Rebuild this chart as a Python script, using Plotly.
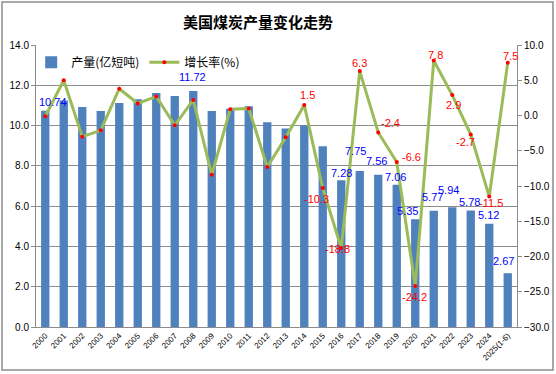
import plotly.graph_objects as go

years = ["2000", "2001", "2002", "2003", "2004", "2005", "2006", "2007", "2008",
         "2009", "2010", "2011", "2012", "2013", "2014", "2015", "2016", "2017",
         "2018", "2019", "2020", "2021", "2022", "2023", "2024", "2025(1-6)"]
output = [10.74, 11.25, 10.92, 10.72, 11.12, 11.31, 11.62, 11.47, 11.72, 10.72,
          10.84, 10.96, 10.16, 9.85, 10.00, 8.97, 7.28, 7.75, 7.56, 7.06,
          5.35, 5.77, 5.94, 5.78, 5.12, 2.67]
growth = [-0.1, 5.0, -3.0, -2.1, 3.8, 1.7, 2.7, -1.4, 2.2, -8.4,
          0.9, 1.0, -7.3, -3.1, 1.5, -10.3, -18.8, 6.3, -2.4, -6.6,
          -24.2, 7.8, 2.9, -2.7, -11.5, 7.5]

# which points carry value labels
bar_label_idx = [0, 8, 16, 17, 18, 19, 20, 21, 22, 23, 24, 25]
line_label_idx = list(range(14, 26))

# label offsets in pixels (style only): (xshift, yshift)
bar_label_shift = {0: (8, 9), 8: (-1, 14), 16: (0, 7), 17: (-4, 20), 18: (-2, 14),
                   19: (-1, 8), 20: (-8, 8), 21: (-1, 14), 22: (-4, 17),
                   23: (-1, 9), 24: (-1, 9), 25: (-4, 12)}
line_label_shift = {14: (3, 10), 15: (-6, -11), 16: (-4, -1), 17: (0, 8), 18: (12, 9),
                    19: (15, 5), 20: (-1, -11), 21: (2, 6), 22: (1, -10),
                    23: (-5, -7), 24: (2, -6), 25: (3, 7)}

FONT = "Liberation Sans, Arial, Noto Sans CJK SC, sans-serif"
CJK = "Noto Sans CJK SC, Microsoft YaHei, sans-serif"
GRID = "#8c8c8c"

fig = go.Figure()
fig.add_trace(go.Bar(
    x=years, y=output, name="产量(亿短吨)", marker_color="#4F81BD",
    marker_line_width=0, yaxis="y",
))
fig.add_trace(go.Scatter(
    x=years, y=growth, name="增长率(%)", yaxis="y2", mode="lines+markers",
    line=dict(color="#9BBB59", width=3),
    marker=dict(color="#FF0000", size=4, line=dict(width=0)),
))

annotations = []
for i in bar_label_idx:
    dx, dy = bar_label_shift[i]
    annotations.append(dict(x=i, y=output[i], xref="x", yref="y",
                            text=f"{output[i]:.2f}", showarrow=False,
                            xshift=dx, yshift=dy,
                            font=dict(color="#0000FF", size=11, family=FONT)))
for i in line_label_idx:
    dx, dy = line_label_shift[i]
    annotations.append(dict(x=i, y=growth[i], xref="x", yref="y2",
                            text=f"{growth[i]:.1f}", showarrow=False,
                            xshift=dx, yshift=dy,
                            font=dict(color="#FF0000", size=11, family=FONT)))

fig.update_layout(
    width=556, height=374,
    margin=dict(l=36, r=39, t=45, b=47, autoexpand=False),
    paper_bgcolor="white", plot_bgcolor="white",
    title=dict(text="<b>美国煤炭产量变化走势</b>", x=0.464, xanchor="center",
               y=0.94, yanchor="middle", font=dict(family=CJK, size=15, color="black")),
    bargap=0.55,
    showlegend=True,
    legend=dict(orientation="h", x=-0.01, y=0.99, xanchor="left", yanchor="top",
                bgcolor="rgba(0,0,0,0)", font=dict(family=CJK, size=12, color="black"),
                itemwidth=30, tracegroupgap=0),
    xaxis=dict(type="category", range=[-0.5, len(years) - 0.5], tickangle=-45,
               automargin=False, showgrid=False, showline=True,
               linecolor=GRID, linewidth=1, ticks="", tickfont=dict(family=FONT, size=8, color="black"),
               fixedrange=True),
    yaxis=dict(range=[0, 14], dtick=2, tickformat=".1f", showgrid=True, gridcolor=GRID,
               automargin=False,
               gridwidth=1, showline=True, linecolor=GRID, linewidth=1, ticks="outside",
               ticklen=4, tickcolor=GRID, zeroline=False,
               tickfont=dict(family=FONT, size=10, color="black")),
    yaxis2=dict(range=[-30, 10], dtick=5, tickformat=".1f", overlaying="y", side="right",
                automargin=False,
                showgrid=False, showline=True, linecolor=GRID, linewidth=1, ticks="outside",
                ticklen=4, tickcolor=GRID, zeroline=False,
                tickfont=dict(family=FONT, size=10, color="black")),
    annotations=annotations,
    shapes=[dict(type="rect", xref="paper", yref="paper",
                 x0=-0.0707, x1=1.0748, y0=-0.1525, y1=1.1525,
                 line=dict(color=GRID, width=1.5), fillcolor="rgba(0,0,0,0)", layer="below")],
)

fig.write_html("out.html", config={"displayModeBar": False},
               post_script="document.body.style.margin='0px';document.body.style.padding='0px';")
